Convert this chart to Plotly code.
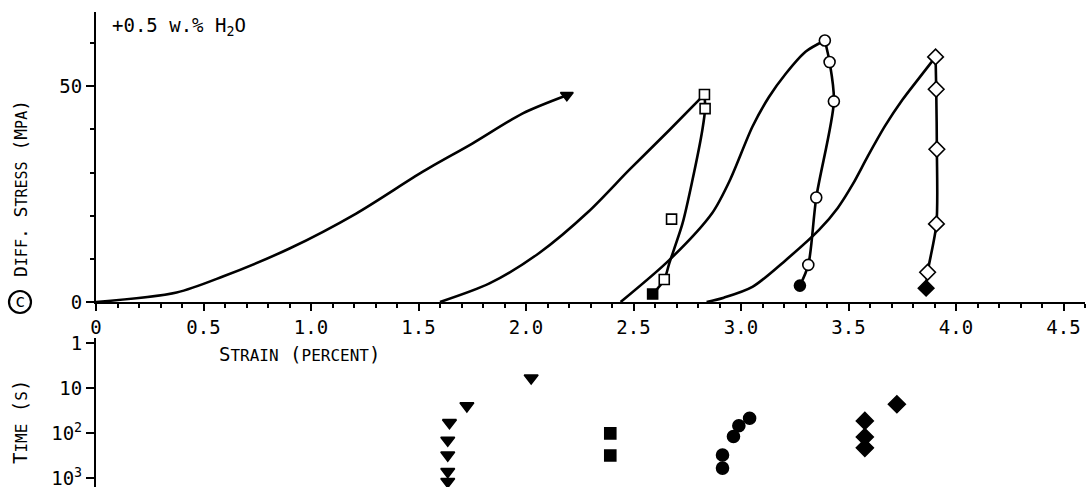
import plotly.graph_objects as go

# ---- stress-strain curves (strain in %, differential stress in MPa) ----
load1_x = [0, 0.375, 0.59, 0.90, 1.21, 1.52, 1.75, 1.985, 2.19]
load1_y = [0, 2.2, 5.9, 12.4, 20.5, 30.2, 36.7, 43.7, 47.9]

load2_x = [1.60, 1.83, 2.06, 2.29, 2.48, 2.666, 2.83]
load2_y = [0, 4.3, 11.3, 20.9, 30.6, 39.8, 48.1]
unload2_x = [2.83, 2.833, 2.82, 2.774, 2.728, 2.666, 2.643, 2.589]
unload2_y = [48.1, 44.8, 39.8, 28.2, 18.2, 8.9, 5.2, 1.85]

load3_x = [2.44, 2.666, 2.867, 2.95, 3.053, 3.13, 3.208, 3.30, 3.39]
load3_y = [0, 9.7, 20.7, 28.4, 40.6, 47.5, 52.9, 58.0, 60.6]

load4_x = [2.84, 2.92, 3.053, 3.208, 3.363, 3.45, 3.52, 3.59, 3.67, 3.75, 3.83, 3.905]
load4_y = [0, 1.0, 3.5, 9.7, 16.7, 21.8, 27.3, 33.8, 40.8, 46.8, 52.0, 56.8]

# ---- relaxation points on the curves ----
tri_end_x, tri_end_y = [2.19], [47.9]

sq_open_x = [2.83, 2.833, 2.677, 2.643]
sq_open_y = [48.1, 44.8, 19.2, 5.2]
sq_fill_x, sq_fill_y = [2.589], [1.85]

circ_open_x = [3.39, 3.412, 3.432, 3.35, 3.313]
circ_open_y = [60.6, 55.6, 46.5, 24.2, 8.6]
circ_fill_x, circ_fill_y = [3.274], [3.8]

diam_open_x = [3.905, 3.908, 3.911, 3.909, 3.868]
diam_open_y = [56.8, 49.3, 35.4, 18.1, 6.9]
diam_fill_x, diam_fill_y = [3.861], [3.2]

# ---- time panel (strain position vs. time in s) ----
tri_t_x = [1.644, 1.636, 1.636, 1.636, 1.636, 1.725, 2.024]
tri_t_y = [59, 145, 310, 720, 1200, 25, 6]
sq_t_x = [2.392, 2.392]
sq_t_y = [102, 316]
circ_t_x = [2.914, 2.914, 2.965, 2.99, 3.04]
circ_t_y = [309, 603, 120, 69, 47]
diam_t_x = [3.576, 3.576, 3.576, 3.725]
diam_t_y = [54, 123, 214, 23]

x_tick_vals = [0, 0.5, 1.0, 1.5, 2.0, 2.5, 3.0, 3.5, 4.0, 4.5]
x_tick_text = ["0", "0.5", "1.0", "1.5", "2.0", "2.5", "3.0", "3.5", "4.0", "4.5"]
stress_tick_vals = [0, 50]
stress_tick_text = ["0", "50"]
time_tick_vals = [1, 10, 100, 1000]
time_tick_text = ["1", "10", "10<sup>2</sup>", "10<sup>3</sup>"]

FONT = "DejaVu Sans Mono"
INK = "black"
W, H = 1089, 489
L, R, T, B = 96, 4, 12, 2
PH = H - T - B


def py(px):
    """pixel row -> paper y"""
    return (H - B - px) / PH


def px_x(px):
    """pixel column -> paper x"""
    return (px - L) / (W - L - R)


fig = go.Figure()

line_style = dict(color=INK, width=2.6, shape="spline", smoothing=0.8)
for xs, ys in [(load1_x, load1_y), (load2_x, load2_y), (unload2_x, unload2_y),
               (load3_x, load3_y), (circ_open_x + circ_fill_x, circ_open_y + circ_fill_y),
               (load4_x, load4_y), (diam_open_x + diam_fill_x, diam_open_y + diam_fill_y)]:
    fig.add_trace(go.Scatter(x=xs, y=ys, mode="lines", line=line_style,
                             hoverinfo="skip", showlegend=False))


def pts(xs, ys, symbol, size, filled, xa="x", ya="y"):
    fig.add_trace(go.Scatter(
        x=xs, y=ys, mode="markers", xaxis=xa, yaxis=ya, showlegend=False,
        marker=dict(symbol=symbol, size=size,
                    color=INK if filled else "white",
                    line=dict(color=INK, width=1.6))))


pts(tri_end_x, tri_end_y, "triangle-down", 11, True)
pts(sq_open_x, sq_open_y, "square", 10, False)
pts(sq_fill_x, sq_fill_y, "square", 10, True)
pts(circ_open_x, circ_open_y, "circle", 11, False)
pts(circ_fill_x, circ_fill_y, "circle", 11, True)
pts(diam_open_x, diam_open_y, "diamond", 12, False)
pts(diam_fill_x, diam_fill_y, "diamond", 12, True)

pts(tri_t_x, tri_t_y, "triangle-down", 12, True, "x2", "y2")
pts(sq_t_x, sq_t_y, "square", 11, True, "x2", "y2")
pts(circ_t_x, circ_t_y, "circle", 12, True, "x2", "y2")
pts(diam_t_x, diam_t_y, "diamond", 13, True, "x2", "y2")

tick_font = dict(family=FONT, size=19, color=INK)
axis_common = dict(showgrid=False, zeroline=False, showline=True, linecolor=INK,
                   linewidth=2.2, ticks="outside", tickcolor=INK, tickwidth=2,
                   tickfont=tick_font, automargin=False)

fig.update_layout(
    width=W, height=H,
    margin=dict(l=L, r=R, t=T, b=B, autoexpand=False),
    paper_bgcolor="white", plot_bgcolor="white",
    xaxis=dict(domain=[0, 1], range=[0, 4.6], anchor="y",
               tickmode="array", tickvals=x_tick_vals, ticktext=x_tick_text,
               ticklen=7,
               minor=dict(tick0=0, dtick=0.1, ticks="outside", ticklen=4,
                          tickcolor=INK, tickwidth=1.5),
               **axis_common),
    yaxis=dict(domain=[py(302), 1], range=[0, 67.2], anchor="x",
               tickmode="array", tickvals=stress_tick_vals, ticktext=stress_tick_text,
               ticklen=8,
               minor=dict(tick0=0, dtick=10, ticks="outside", ticklen=4,
                          tickcolor=INK, tickwidth=1.5),
               **axis_common),
    xaxis2=dict(domain=[0, 1], range=[0, 4.6], anchor="y2", matches="x",
                visible=False),
    yaxis2=dict(domain=[0, py(338)], type="log", range=[3.2, -0.11], anchor="x2",
                tickmode="array", tickvals=time_tick_vals, ticktext=time_tick_text,
                ticklen=8, **axis_common),
)


def sc(big, small, ss=16):
    """small caps helper"""
    return f"{big}<span style='font-size:{ss}px'>{small}</span>"


ann_font = dict(family=FONT, size=19, color=INK)
fig.add_annotation(xref="paper", yref="paper", x=px_x(110), y=py(27),
                   xanchor="left", yanchor="middle", showarrow=False,
                   text="+0.5 w.% H<sub>2</sub>O", font=ann_font)
fig.add_annotation(xref="paper", yref="paper", x=px_x(217), y=py(354),
                   xanchor="left", yanchor="middle", showarrow=False,
                   text=sc("S", "TRAIN") + " (" + sc("", "PERCENT") + ")",
                   font=ann_font)
fig.add_annotation(xref="paper", yref="paper", x=px_x(20), y=py(189),
                   xanchor="center", yanchor="middle", showarrow=False,
                   textangle=-90,
                   text=sc("D", "IFF", 15) + ". " + sc("S", "TRESS", 15) + " ("
                   + sc("M", "PA", 15) + ")",
                   font=dict(family=FONT, size=18, color=INK))
fig.add_annotation(xref="paper", yref="paper", x=px_x(20), y=py(422),
                   xanchor="center", yanchor="middle", showarrow=False,
                   textangle=-90,
                   text=sc("T", "IME") + " (" + sc("", "S") + ")",
                   font=ann_font)
fig.add_annotation(xref="paper", yref="paper", x=px_x(20), y=py(301),
                   xanchor="center", yanchor="middle", showarrow=False,
                   text="c", font=dict(family=FONT, size=17, color=INK))
fig.add_shape(type="circle", xref="paper", yref="paper",
              x0=px_x(9), x1=px_x(31), y0=py(313), y1=py(291),
              line=dict(color=INK, width=2.2))

fig.write_html("out.html")
